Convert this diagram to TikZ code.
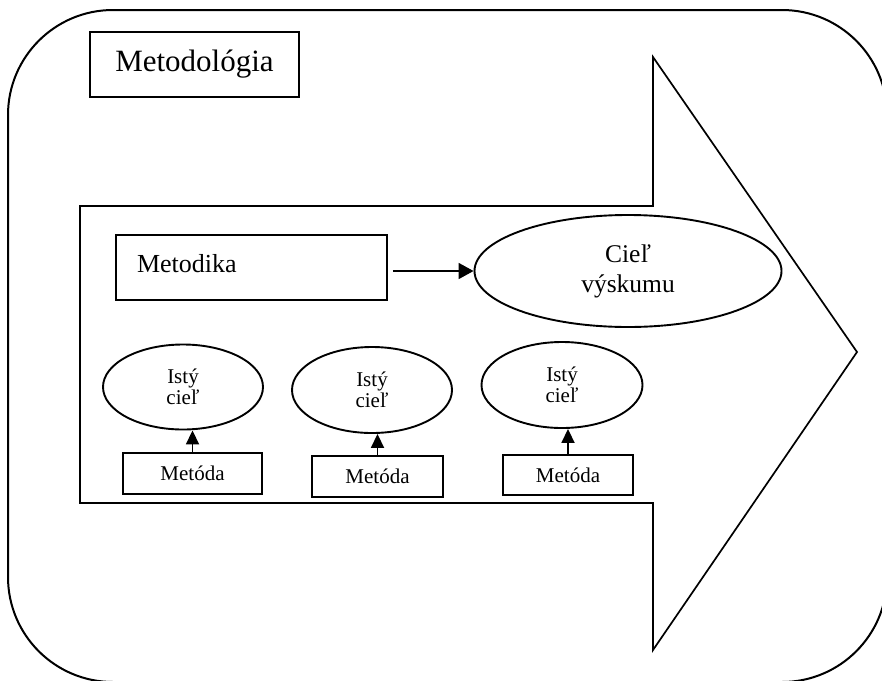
\documentclass[tikz,border=0pt]{standalone}
\usepackage{fontspec}
\setmainfont{Liberation Serif}
\usetikzlibrary{arrows.meta,shapes.geometric}
\begin{document}
\begin{tikzpicture}[x=1pt,y=-1pt,
  box/.style={draw, line width=1.9pt, rectangle, inner sep=0pt},
  ell/.style={draw, line width=1.9pt, ellipse, inner sep=0pt, align=center},
  conn/.style={line width=1.8pt, -{Triangle[length=14pt,width=13pt]}},
  bigconn/.style={line width=1.8pt, -{Triangle[length=15pt,width=16pt]}},
  smallfont/.style={font=\fontsize{21}{21}\selectfont},
  metfont/.style={font=\fontsize{21}{24}\selectfont}
]
\useasboundingbox (0,0) rectangle (882,680);
\clip (0,0) rectangle (882,680);
% outer rounded frame
\draw[line width=2pt, rounded corners=105pt] (8,10) rectangle (887,682);
% big arrow
\draw[line width=1.7pt, line join=miter] (80,206) -- (653,206) -- (653,57) -- (857,352) -- (653,650) -- (653,503) -- (80,503) -- cycle;
% title
\node[box, minimum width=209pt, minimum height=65pt, font=\fontsize{31}{36}\selectfont] (metodologia) at (194.5,64.5) {Metodológia};
% Metodika
\node[box, minimum width=271pt, minimum height=65pt, text width=229pt, align=left, inner xsep=21pt, text height=18pt, text depth=8pt, font=\fontsize{26}{30}\selectfont] (metodika) at (251.5,267.5) {Metodika};
% Ciel vyskumu
\node[ell, minimum width=307pt, minimum height=112pt, font=\fontsize{25.5}{30}\selectfont] (ciel) at (628,271) {Cieľ\\výskumu};
\draw[bigconn, shorten <=5pt] (metodika.east |- ciel.west) -- (ciel.west);
% small goals
\node[ell, smallfont, minimum width=160pt, minimum height=85pt] (e1) at (183,387) {Istý\\cieľ};
\node[ell, smallfont, minimum width=160pt, minimum height=86pt] (e2) at (372,390) {Istý\\cieľ};
\node[ell, smallfont, minimum width=161pt, minimum height=86pt] (e3) at (562,385) {Istý\\cieľ};
% methods
\node[box, metfont, minimum width=139pt, minimum height=41pt] (m1) at (192.5,473.5) {Metóda};
\node[box, metfont, minimum width=131pt, minimum height=41pt] (m2) at (377.5,476.5) {Metóda};
\node[box, metfont, minimum width=130pt, minimum height=40pt] (m3) at (568,475) {Metóda};
\draw[conn] (m1.north) -- (m1.north |- e1.south);
\draw[conn] (m2.north) -- (m2.north |- e2.south);
\draw[conn] (m3.north) -- (m3.north |- e3.south);
\end{tikzpicture}
\end{document}
